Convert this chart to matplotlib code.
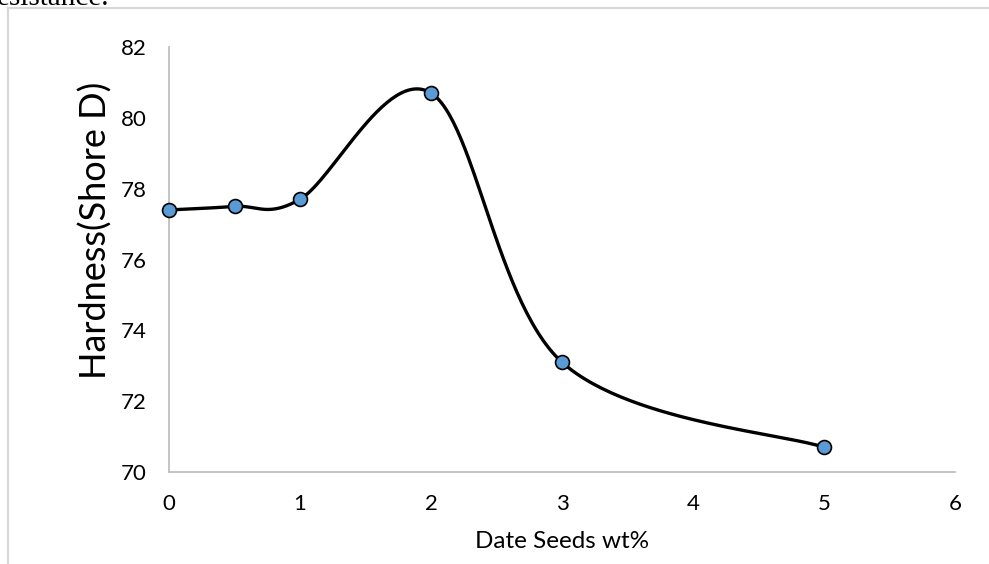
import numpy as np
import matplotlib
matplotlib.use("Agg")
import matplotlib.pyplot as plt
from matplotlib.lines import Line2D

# Data
date_seeds_wt = [0, 0.5, 1, 2, 3, 5]
hardness = [77.4, 77.5, 77.7, 80.7, 73.1, 70.7]
x_ticks = [0, 1, 2, 3, 4, 5, 6]
y_ticks = [70, 72, 74, 76, 78, 80, 82]

FONT = ["Lato", "DejaVu Sans"]


def excel_smooth(xs, ys, n=60):
    """Excel-style smoothed line (Catmull-Rom with tension 1/6 Bezier control points)."""
    P = np.column_stack([xs, ys]).astype(float)
    m = len(P)
    out = []
    for i in range(m - 1):
        p0 = P[i - 1] if i > 0 else P[i]
        p1 = P[i]
        p2 = P[i + 1]
        p3 = P[i + 2] if i + 2 < m else P[i + 1]
        c1 = p1 + (p2 - p0) / 6.0
        c2 = p2 - (p3 - p1) / 6.0
        t = np.linspace(0, 1, n)[:, None]
        seg = ((1 - t) ** 3) * p1 + 3 * ((1 - t) ** 2) * t * c1 + 3 * (1 - t) * t ** 2 * c2 + t ** 3 * p2
        if i > 0:
            seg = seg[1:]
        out.append(seg)
    out = np.vstack(out)
    return out[:, 0], out[:, 1]


W, H = 989, 564
fig = plt.figure(figsize=(W / 100, H / 100), dpi=100)
fig.patch.set_facecolor("white")

left, right, top, bottom = 169, 955, 47, 472
ax = fig.add_axes([left / W, (H - bottom) / H, (right - left) / W, (bottom - top) / H])

sx, sy = excel_smooth(date_seeds_wt, hardness)
ax.plot(sx, sy, color="black", lw=2.4, solid_capstyle="round", zorder=2, clip_on=False)
ax.plot(date_seeds_wt, hardness, linestyle="none", marker="o", markersize=10,
        markerfacecolor="#5b9bd5", markeredgecolor="black", markeredgewidth=1.2,
        zorder=3, clip_on=False)

ax.set_xlim(0, 6)
ax.set_ylim(70, 82)
ax.set_xticks(x_ticks)
ax.set_yticks(y_ticks)
ax.tick_params(axis="both", length=0, labelsize=16, colors="black")
ax.tick_params(axis="x", pad=15.5)
ax.tick_params(axis="y", pad=16)
for lab in ax.get_xticklabels() + ax.get_yticklabels():
    lab.set_family(FONT)

for s in ["top", "right"]:
    ax.spines[s].set_visible(False)
for s in ["left", "bottom"]:
    ax.spines[s].set_color("#bfbfbf")
    ax.spines[s].set_linewidth(1.3)

ax.set_xlabel("Date Seeds wt%", fontsize=17.5, family=FONT)
ax.set_ylabel("Hardness(Shore D)", fontsize=26, family=FONT)
ax.xaxis.label.set_verticalalignment("center")
ax.xaxis.set_label_coords(0.5, -(541 - bottom) / (bottom - top), transform=ax.transAxes)
ax.yaxis.label.set_verticalalignment("center")
ax.yaxis.set_label_coords(-(left - 96) / (right - left), (bottom - 230) / (bottom - top))

# Chart frame border (partially visible)
fig.add_artist(Line2D([8 / W, 8 / W], [0, 1 - 8 / H], transform=fig.transFigure,
                      color="#d9d9d9", lw=1.6))
fig.add_artist(Line2D([8 / W, 1], [1 - 8 / H, 1 - 8 / H], transform=fig.transFigure,
                      color="#d9d9d9", lw=1.6))

# Cropped text from surrounding document
fig.text(-3 / W, 1 - 5 / H, "esistance.", family=["Liberation Serif", "DejaVu Serif"],
         fontsize=21, va="baseline", ha="left", color="black")

fig.savefig("out.png", dpi=100, facecolor="white")
